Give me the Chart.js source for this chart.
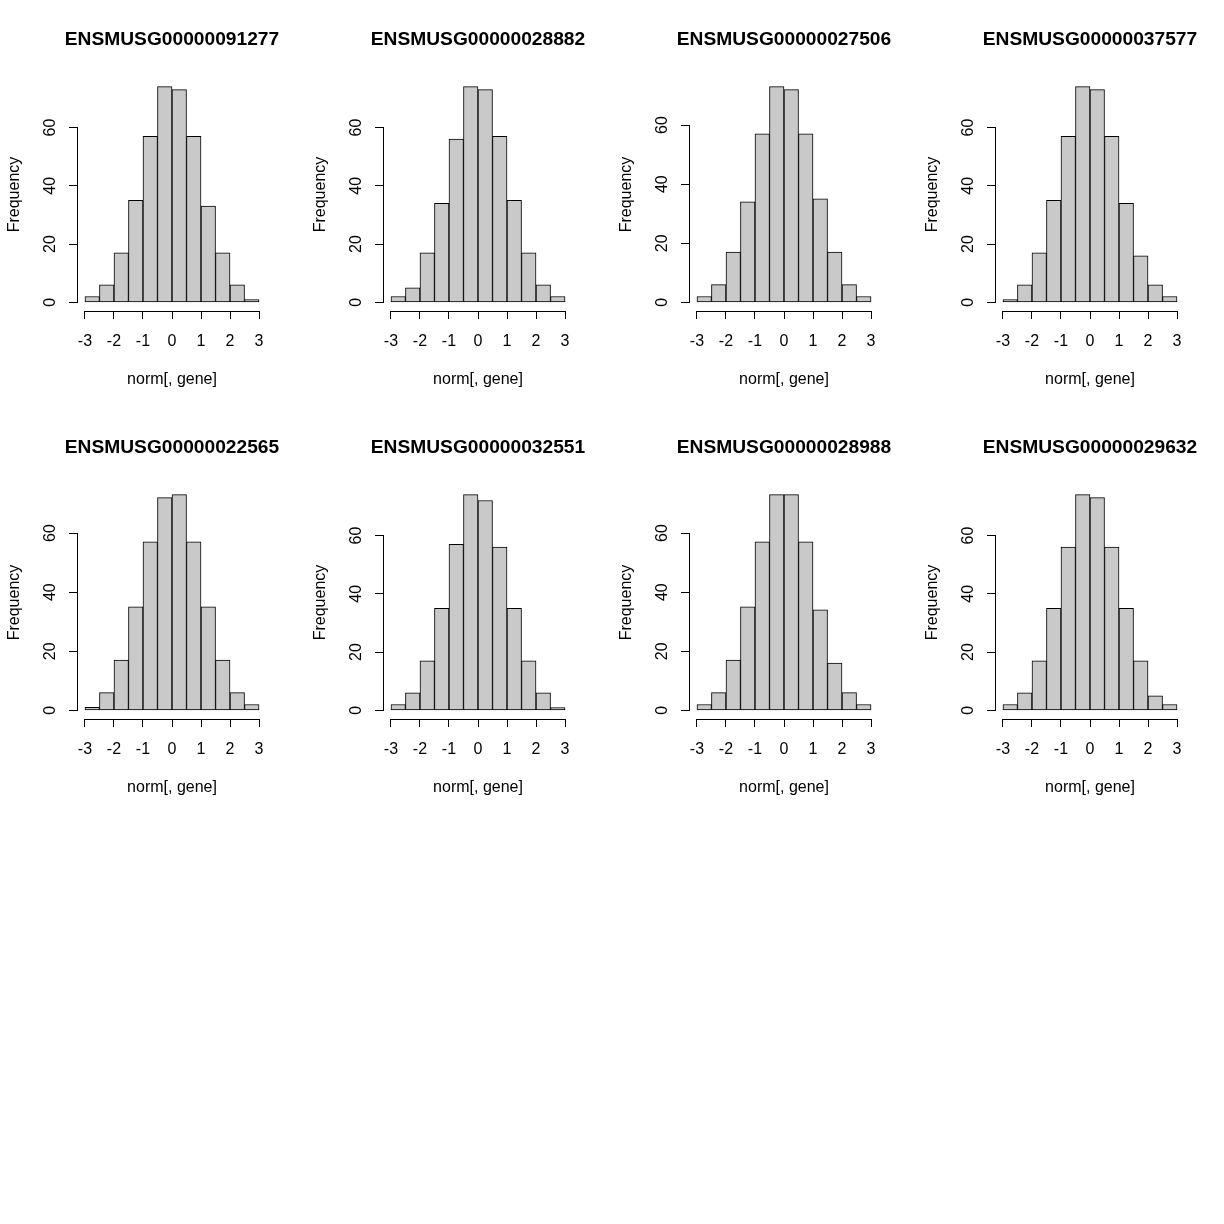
<!DOCTYPE html>
<html>
<head>
<meta charset="utf-8">
<script src="https://cdn.jsdelivr.net/npm/chart.js@4.4.1/dist/chart.umd.min.js"></script>
<style>
  html, body { margin: 0; padding: 0; background: #ffffff; }
  #wrap { position: relative; width: 1224px; height: 1224px; background: #ffffff; }
  canvas { position: absolute; }
</style>
</head>
<body>
<div id="wrap"></div>
<script>
// ---- data ----
const genes = [
  "ENSMUSG00000091277", "ENSMUSG00000028882", "ENSMUSG00000027506", "ENSMUSG00000037577",
  "ENSMUSG00000022565", "ENSMUSG00000032551", "ENSMUSG00000028988", "ENSMUSG00000029632"
];
const binEdges = [-3, -2.5, -2, -1.5, -1, -0.5, 0, 0.5, 1, 1.5, 2, 2.5, 3];
const counts1 = [2, 6, 17, 35, 57, 74, 73, 57, 33, 17, 6, 1];
const counts2 = [2, 5, 17, 34, 56, 74, 73, 57, 35, 17, 6, 2];
const counts3 = [2, 6, 17, 34, 57, 73, 72, 57, 35, 17, 6, 2];
const counts4 = [1, 6, 17, 35, 57, 74, 73, 57, 34, 16, 6, 2];
const counts5 = [1, 6, 17, 35, 57, 72, 73, 57, 35, 17, 6, 2];
const counts6 = [2, 6, 17, 35, 57, 74, 72, 56, 35, 17, 6, 1];
const counts7 = [2, 6, 17, 35, 57, 73, 73, 57, 34, 16, 6, 2];
const counts8 = [2, 6, 17, 35, 56, 74, 73, 56, 35, 17, 5, 2];
const allCounts = [counts1, counts2, counts3, counts4, counts5, counts6, counts7, counts8];
const xTicks = [-3, -2, -1, 0, 1, 2, 3];
const yTicks = [0, 20, 40, 60];
const xLabel = "norm[, gene]";
const yLabel = "Frequency";

// ---- styling / layout ----
const FONT = "'Liberation Sans', Arial, Helvetica, sans-serif";
const CELL_W = 306, CELL_H = 408, NCOL = 4;
const BAR_FILL = "#c9c9c9";

// axis lines that span only first..last tick (R style)
const rAxisLines = {
  id: 'rAxisLines',
  afterLayout(chart) {
    // let the title (centred over the plot region) use its natural width
    const t = chart.titleBlock;
    if (t) { t.left -= 60; t.right += 60; t.width = t.right - t.left; }
  },
  afterDraw(chart) {
    const ctx = chart.ctx;
    const xs = chart.scales.x, ys = chart.scales.y;
    ctx.save();
    ctx.strokeStyle = '#000000';
    ctx.lineWidth = 1;
    ctx.beginPath();
    const yb = Math.round(xs.top) + 0.5;
    ctx.moveTo(xs.getPixelForValue(xTicks[0]), yb);
    ctx.lineTo(xs.getPixelForValue(xTicks[xTicks.length - 1]), yb);
    const xl = Math.round(ys.right) - 0.5;
    ctx.moveTo(xl, ys.getPixelForValue(yTicks[0]));
    ctx.lineTo(xl, ys.getPixelForValue(yTicks[yTicks.length - 1]));
    ctx.stroke();
    ctx.restore();
  }
};

const wrap = document.getElementById('wrap');
genes.forEach((gene, i) => {
  const counts = allCounts[i];
  const col = i % NCOL, row = Math.floor(i / NCOL);
  const cv = document.createElement('canvas');
  cv.width = CELL_W; cv.height = CELL_H;
  cv.style.left = (col * CELL_W) + 'px';
  cv.style.top = (row * CELL_H) + 'px';
  wrap.appendChild(cv);

  const pts = counts.map((c, k) => ({ x: (binEdges[k] + binEdges[k + 1]) / 2, y: c }));
  const ymax = Math.max(...counts);
  const xr = binEdges[binEdges.length - 1] - binEdges[0];

  new Chart(cv.getContext('2d'), {
    type: 'bar',
    data: {
      datasets: [{
        data: pts,
        backgroundColor: BAR_FILL,
        borderColor: '#000000',
        borderWidth: 1,
        borderSkipped: false,
        barPercentage: 1,
        categoryPercentage: 1
      }]
    },
    options: {
      responsive: false,
      animation: false,
      devicePixelRatio: 1,
      layout: { padding: { left: 0, right: 40, top: 0, bottom: 0 } },
      plugins: {
        legend: { display: false },
        tooltip: { enabled: false },
        title: {
          display: true,
          text: gene,
          fullSize: false,
          color: '#000000',
          font: { family: FONT, size: 19.2, weight: 'bold', lineHeight: 1.2 },
          padding: { top: 28.5, bottom: 26.5 }
        }
      },
      scales: {
        x: {
          type: 'linear',
          offset: false,
          min: binEdges[0] - 0.04 * xr,
          max: binEdges[binEdges.length - 1] + 0.04 * xr,
          afterBuildTicks: s => { s.ticks = xTicks.map(v => ({ value: v })); },
          afterFit: s => { s.height = 97; },
          border: { display: false },
          grid: { display: true, offset: false, drawOnChartArea: false, drawTicks: true, tickLength: 8, color: '#000000', lineWidth: 1 },
          ticks: {
            color: '#000000', padding: 13, maxRotation: 0, minRotation: 0, autoSkip: false,
            font: { family: FONT, size: 16 },
            callback: v => String(v)
          },
          title: {
            display: true, text: xLabel, color: '#000000',
            font: { family: FONT, size: 16, lineHeight: 1.2 },
            padding: { top: 0, bottom: 19 }
          }
        },
        y: {
          type: 'linear',
          min: -0.04 * ymax,
          max: 1.04 * ymax,
          afterBuildTicks: s => { s.ticks = yTicks.map(v => ({ value: v })); },
          afterFit: s => { s.width = 78; },
          border: { display: false },
          grid: { display: true, drawOnChartArea: false, drawTicks: true, tickLength: 9, color: '#000000', lineWidth: 1 },
          ticks: {
            color: '#000000', padding: 10, minRotation: 90, maxRotation: 90, crossAlign: 'center', autoSkip: false,
            font: { family: FONT, size: 16 },
            callback: v => String(v)
          },
          title: {
            display: true, text: yLabel, color: '#000000',
            font: { family: FONT, size: 16, lineHeight: 1.2 },
            padding: { top: 4.5, bottom: 0 }
          }
        }
      }
    },
    plugins: [rAxisLines]
  });
});
</script>
</body>
</html>
